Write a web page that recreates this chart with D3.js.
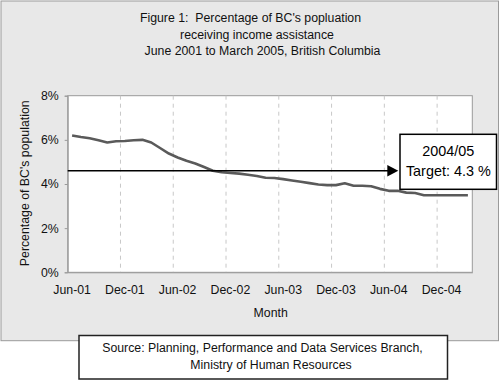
<!DOCTYPE html>
<html>
<head>
<meta charset="utf-8">
<script src="https://cdn.jsdelivr.net/npm/d3@7"></script>
<style>
  html, body { margin: 0; padding: 0; background: #ffffff; }
  svg { display: block; font-family: "Liberation Sans", Arial, sans-serif; }
</style>
</head>
<body>
<svg id="chart" width="500" height="380"></svg>
<script>
// ---- Data ----
const months = [
  "Jun-01","Jul-01","Aug-01","Sep-01","Oct-01","Nov-01","Dec-01","Jan-02","Feb-02","Mar-02","Apr-02","May-02",
  "Jun-02","Jul-02","Aug-02","Sep-02","Oct-02","Nov-02","Dec-02","Jan-03","Feb-03","Mar-03","Apr-03","May-03",
  "Jun-03","Jul-03","Aug-03","Sep-03","Oct-03","Nov-03","Dec-03","Jan-04","Feb-04","Mar-04","Apr-04","May-04",
  "Jun-04","Jul-04","Aug-04","Sep-04","Oct-04","Nov-04","Dec-04","Jan-05","Feb-05","Mar-05"
];
const percentOnAssistance = [
  6.20, 6.13, 6.07, 5.98, 5.88, 5.94, 5.95, 5.98, 6.00, 5.88, 5.63, 5.38,
  5.20, 5.05, 4.93, 4.77, 4.60, 4.53, 4.50, 4.47, 4.42, 4.36, 4.28, 4.27,
  4.22, 4.16, 4.10, 4.04, 3.98, 3.95, 3.95, 4.03, 3.92, 3.92, 3.90, 3.78,
  3.69, 3.69, 3.61, 3.59, 3.49, 3.49, 3.49, 3.49, 3.49, 3.49
];
const xTickLabels = ["Jun-01","Dec-01","Jun-02","Dec-02","Jun-03","Dec-03","Jun-04","Dec-04"];
const yTicks = [0, 2, 4, 6, 8];
const arrowLevel = [4.6];
const titleLines = [
  "Figure 1:  Percentage of BC's popluation",
  "receiving income assistance",
  "June 2001 to March 2005, British Columbia"
];
const annotationLines = ["2004/05", "Target: 4.3 %"];
const sourceLines = [
  "Source: Planning, Performance and Data Services Branch,",
  "Ministry of Human Resources"
];

// ---- Layout ----
const svg = d3.select("#chart");
const plot = { left: 67.7, right: 472.3, top: 95.7, bottom: 272.3 };

// outer panel
svg.append("rect")
  .attr("x", 1).attr("y", 1).attr("width", 497.5).attr("height", 339.7)
  .attr("fill", "#e8e8e8").attr("stroke", "#9a9a9a").attr("stroke-width", 1);

// title
const titleX = [250.5, 257, 262.5];
const titleY = [22, 38.7, 55.3];
svg.append("g").selectAll("text").data(titleLines).join("text")
  .attr("x", (d, i) => titleX[i]).attr("y", (d, i) => titleY[i])
  .attr("text-anchor", "middle").attr("font-size", "12.3px").attr("fill", "#111")
  .attr("xml:space", "preserve")
  .text(d => d);

// scales
const x = d3.scaleBand().domain(months).range([plot.left, plot.right]).padding(0);
const y = d3.scaleLinear().domain([0, 8]).range([plot.bottom, plot.top]);

// plot area
svg.append("rect")
  .attr("x", plot.left).attr("y", plot.top)
  .attr("width", plot.right - plot.left).attr("height", plot.bottom - plot.top)
  .attr("fill", "#ffffff").attr("stroke", "#9a9a9a").attr("stroke-width", 1);

// vertical dashed gridlines at 6-month boundaries
const gridMonths = xTickLabels.slice(1);
svg.append("g").selectAll("line").data(gridMonths).join("line")
  .attr("x1", d => x(d)).attr("x2", d => x(d))
  .attr("y1", plot.top).attr("y2", plot.bottom)
  .attr("stroke", "#c8c8c8").attr("stroke-width", 1).attr("stroke-dasharray", "4,4");

// y axis
const yAxis = svg.append("g").attr("transform", `translate(${plot.left},0)`)
  .call(d3.axisLeft(y).tickValues(yTicks).tickSize(3).tickPadding(6).tickFormat(d => d + "%"));
yAxis.select(".domain").attr("stroke", "#9a9a9a");
yAxis.selectAll(".tick line").attr("stroke", "#9a9a9a");
yAxis.selectAll("text").attr("font-size", "12.3px").attr("fill", "#111")
  .attr("font-family", "Liberation Sans, Arial, sans-serif");

// x axis (labels at band centers)
const xAxis = svg.append("g").attr("transform", `translate(0,${plot.bottom})`)
  .call(d3.axisBottom(x).tickValues(xTickLabels).tickSize(0).tickPadding(13));
xAxis.select(".domain").attr("stroke", "#9a9a9a");
xAxis.selectAll("text").attr("font-size", "12.3px").attr("fill", "#111")
  .attr("font-family", "Liberation Sans, Arial, sans-serif");

// axis titles
svg.append("text")
  .attr("transform", "translate(28.5,183.3) rotate(-90)")
  .attr("text-anchor", "middle").attr("font-size", "12.3px").attr("fill", "#111")
  .text("Percentage of BC's population");
svg.append("text")
  .attr("x", 270.7).attr("y", 316.7)
  .attr("text-anchor", "middle").attr("font-size", "12.3px").attr("fill", "#111")
  .text("Month");

// data line
const line = d3.line()
  .x((d, i) => x(months[i]) + x.bandwidth() / 2)
  .y(d => y(d));
svg.append("path").datum(percentOnAssistance)
  .attr("d", line)
  .attr("fill", "none").attr("stroke", "#5a5a5a").attr("stroke-width", 2.6)
  .attr("stroke-linejoin", "round").attr("stroke-linecap", "butt");

// target arrow
const arrowY = y(arrowLevel[0]);
const tipX = 398.3;
svg.append("line")
  .attr("x1", plot.left).attr("x2", tipX - 8).attr("y1", arrowY).attr("y2", arrowY)
  .attr("stroke", "#000").attr("stroke-width", 1.5);
svg.append("path")
  .attr("d", `M${tipX - 11},${arrowY - 5.8} L${tipX},${arrowY} L${tipX - 11},${arrowY + 5.8} Z`)
  .attr("fill", "#000");

// annotation box
svg.append("rect")
  .attr("x", 400).attr("y", 134.3).attr("width", 96.5).attr("height", 55)
  .attr("fill", "#ffffff").attr("stroke", "#000").attr("stroke-width", 1.5);
svg.append("g").selectAll("text").data(annotationLines).join("text")
  .attr("x", 448.3).attr("y", (d, i) => [156, 175.7][i])
  .attr("text-anchor", "middle").attr("font-size", "14.4px").attr("fill", "#000")
  .text(d => d);

// source box
svg.append("rect")
  .attr("x", 79).attr("y", 335.5).attr("width", 368.5).attr("height", 43.5)
  .attr("fill", "#ffffff").attr("stroke", "#222").attr("stroke-width", 1.5);
svg.append("g").selectAll("text").data(sourceLines).join("text")
  .attr("x", (d, i) => [262.5, 271][i]).attr("y", (d, i) => [352.3, 369][i])
  .attr("text-anchor", "middle").attr("font-size", "12.3px").attr("fill", "#111")
  .text(d => d);
</script>
</body>
</html>
